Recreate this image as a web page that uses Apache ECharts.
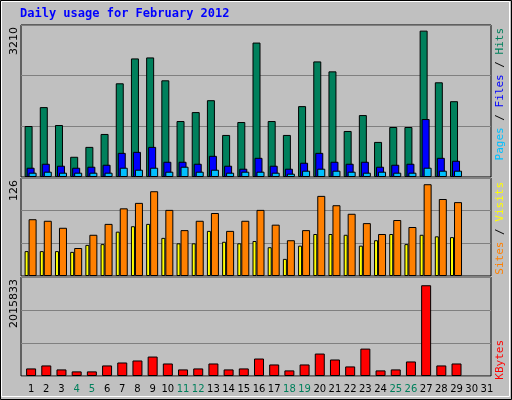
<!DOCTYPE html>
<html><head><meta charset="utf-8">
<script src="https://cdn.jsdelivr.net/npm/echarts@6/dist/echarts.min.js"></script>
<style>html,body{margin:0;padding:0;background:#c0c0c0}#c{width:512px;height:400px}</style>
</head><body><div id="c"></div>
<script>
const days = Array.from({length:31},(_,i)=>String(i+1));
const weekendDays = ['4','5','11','12','18','19','25','26'];
const hits  = [1077,1476,1098,427,636,909,1979,2504,2525,2042,1182,1371,1622,888,1161,2839,1182,888,1497,2441,2231,972,1308,741,1056,1056,3091,2000,1601];
const files = [196,280,238,196,217,259,510,531,636,322,322,280,447,238,175,405,238,175,301,510,322,280,322,217,259,280,1224,405,343];
const pages = [91,112,91,91,91,91,196,154,196,112,217,112,154,91,112,112,91,70,133,175,133,112,91,112,91,91,196,133,133];
const visits= [73,71,62,36,53,67,87,94,109,85,59,71,81,58,71,85,66,46,59,103,91,80,68,54,72,63,118,99,95];
const sites = [32,32,32,31,40,41,57,64,67,49,42,42,58,44,42,45,37,22,39,54,54,53,39,46,54,41,53,51,50];
const kbytes= [154000,215000,134000,94000,94000,215000,275000,316000,396000,255000,134000,154000,255000,134000,154000,356000,235000,114000,235000,457000,336000,195000,558000,114000,134000,296000,1848000,215000,255000];
const maxHits = 3210, maxVisits = 126, maxKB = 2015833;

const chart = echarts.init(document.getElementById('c'));
const mono = 'DejaVu Sans Mono';
const panels = [{top:25,h:152,max:maxHits},{top:178,h:98,max:maxVisits},{top:277,h:99,max:maxKB}];
const grids = [], xAxes = [], yAxes = [];
panels.forEach((p,i)=>{
  // background frame grid
  grids.push({left:21,width:470,top:p.top,height:p.h,show:true,backgroundColor:'#c0c0c0',borderColor:'#000',borderWidth:1});
  xAxes.push({gridIndex:grids.length-1,type:'category',data:days,show:false});
  yAxes.push({gridIndex:grids.length-1,type:'value',min:0,max:p.max,interval:p.max/3,axisLabel:{show:false},axisLine:{show:false},axisTick:{show:false},
    splitLine:{lineStyle:{color:'#808080',width:1}}});
});
const barLefts=[23,23,23.5];
panels.forEach((p,i)=>{
  grids.push({left:barLefts[i],width:471,top:p.top,height:p.h});
  xAxes.push({gridIndex:grids.length-1,type:'category',data:days,
    axisLine:{show:false},axisTick:{show:false},
    axisLabel:{show:i===2,interval:0,fontFamily:'DejaVu Sans',fontSize:10,margin:8,
      color:(v)=>weekendDays.includes(v)?'#00805c':'#000'}});
  yAxes.push({gridIndex:grids.length-1,type:'value',min:0,max:p.max,show:false,splitLine:{show:false}});
});
const bs = (name,data,idx,color,w,gap)=>({name,type:'bar',data,xAxisIndex:idx,yAxisIndex:idx,barWidth:w,barGap:gap,
  itemStyle:{color,borderColor:'#000',borderWidth:1},animation:false,silent:true});
chart.setOption({
  animation:false,
  grid:grids,xAxis:xAxes,yAxis:yAxes,
  series:[
    bs('Hits',hits,3,'#00805c',8,'-75%'),
    bs('Files',files,3,'#0000ff',8,'-75%'),
    bs('Pages',pages,3,'#00c0ff',8,'-75%'),
    bs('Sites',sites,4,'#ffff00',4,'0%'),
    bs('Visits',visits,4,'#ff8000',8,'0%'),
    bs('KBytes',kbytes,5,'#ff0000',10,'0%')
  ],
  graphic:[
    {type:'rect',shape:{x:0.5,y:0.5,width:511,height:399},style:{fill:null,stroke:'#000',lineWidth:1},z:100},
    {type:'rect',shape:{x:1.5,y:1.5,width:508,height:395},style:{fill:null,stroke:'#fff',lineWidth:1},z:100},
    {type:'text',left:20,top:8,style:{text:'Daily usage for February 2012',fill:'#0000ff',font:'bold 12px '+mono}},
    {type:'text',x:14,y:27,rotation:Math.PI/2,style:{text:'3210',fill:'#000',font:'11px DejaVu Sans',textAlign:'right',textVerticalAlign:'middle'}},
    {type:'text',x:14,y:180,rotation:Math.PI/2,style:{text:'126',fill:'#000',font:'11px DejaVu Sans',textAlign:'right',textVerticalAlign:'middle'}},
    {type:'text',x:14,y:279,rotation:Math.PI/2,style:{text:'2015833',fill:'#000',font:'11px DejaVu Sans',textAlign:'right',textVerticalAlign:'middle'}},
    {type:'text',x:500,y:28,rotation:Math.PI/2,style:{text:'{c|Pages}{k| / }{b|Files}{k| / }{g|Hits}',textAlign:'right',textVerticalAlign:'middle',
      font:'11px '+mono,rich:{c:{fill:'#00c0ff',font:'11px '+mono},k:{fill:'#000',font:'11px '+mono},b:{fill:'#0000ff',font:'11px '+mono},g:{fill:'#00805c',font:'11px '+mono}}}},
    {type:'text',x:500,y:182,rotation:Math.PI/2,style:{text:'{o|Sites}{k| / }{y|Visits}',textAlign:'right',textVerticalAlign:'middle',
      font:'11px '+mono,rich:{o:{fill:'#ff8000',font:'11px '+mono},k:{fill:'#000',font:'11px '+mono},y:{fill:'#ffff00',font:'11px '+mono}}}},
    {type:'text',x:500,y:340,rotation:Math.PI/2,style:{text:'KBytes',fill:'#ff0000',font:'11px '+mono,textAlign:'right',textVerticalAlign:'middle'}}
  ]
});
</script></body></html>
